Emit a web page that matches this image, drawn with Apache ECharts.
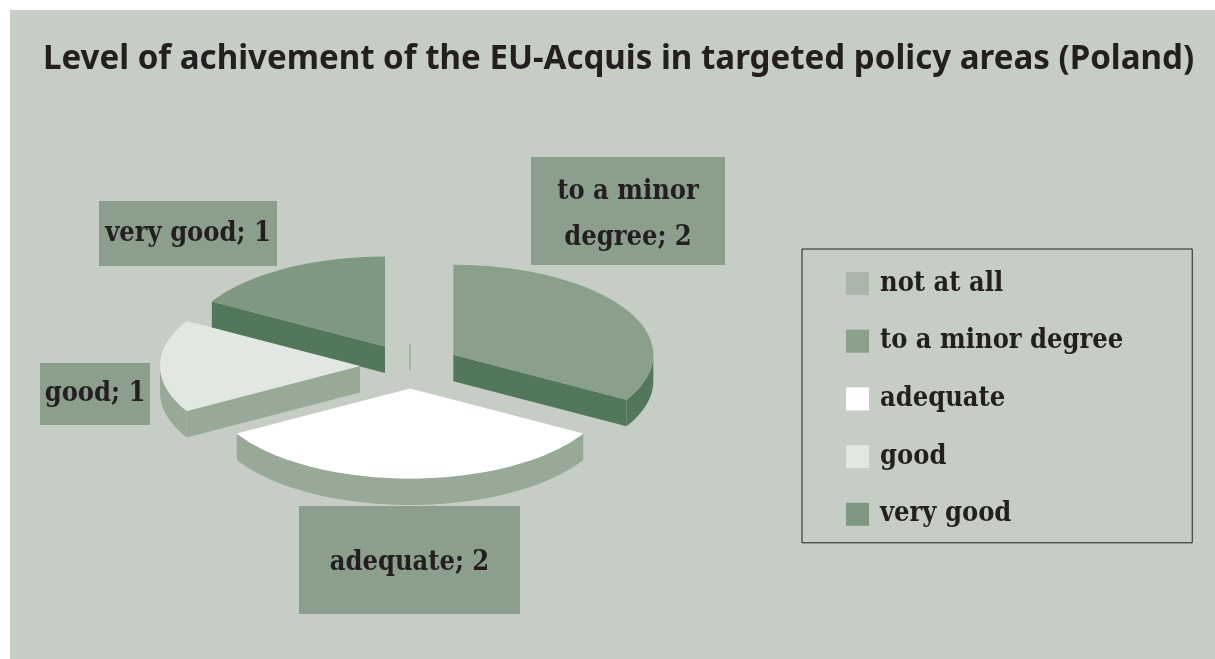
<!DOCTYPE html>
<html>
<head>
<meta charset="utf-8">
<title>EU-Acquis Poland</title>
<script src="https://cdn.jsdelivr.net/npm/echarts@6/dist/echarts.min.js"></script>
<style>
    html, body { margin: 0; padding: 0; background: #fff; }
    #chart { width: 1215px; height: 659px; }
</style>
</head>
<body>
<div id="chart"></div>
<script>
const categories = ['not at all', 'to a minor degree', 'adequate', 'good', 'very good'];
const values = [0, 2, 2, 1, 1];
const topColors = ['#aab6aa', '#8aa08b', '#ffffff', '#e1e7e1', '#7f9882'];
const sideColors = ['#8aa08b', '#52775a', '#98a998', '#98a998', '#52775a'];

// Label boxes in page pixels, [left, top, width, height]
const labelBoxes = [null, [531, 157, 194, 108], [299, 506, 221, 108], [40, 363, 110, 62], [99, 201, 178, 65]];
const labelBreaks = [null, 'to a minor\ndegree', null, null, null];
const labelShift = [0, 4, 3, 0, 0];

const textFont = 'DejaVu Serif Condensed';
const labelColor = '#231f20';
const EXPLODE = 0.25;
const DEPTH = 26.5 / 90; // wall height in unit-circle y units

const total = values.reduce((a, b) => a + b, 0);
const startAngles = values.map((_, i) => values.slice(0, i).reduce((a, b) => a + b, 0) / total * 360);

function rad(d) { return d * Math.PI / 180; }

function arcPoints(from, to, ox, oy) {
    const pts = [];
    const steps = Math.max(1, Math.ceil((to - from) / 2));
    for (let s = 0; s <= steps; s++) {
        const t = rad(from + (to - from) * s / steps);
        pts.push([ox + Math.sin(t), oy + Math.cos(t)]);
    }
    return pts;
}

function renderSlice(index) {
    return function (params, api) {
        const value = api.value(2);
        const a = startAngles[index];
        const b = a + value / total * 360;
        const mid = rad((a + b) / 2);
        const ox = Math.sin(mid) * EXPLODE;
        const oy = Math.cos(mid) * EXPLODE;
        const px = p => p.map(q => api.coord(q));
        const children = [];

        if (value === 0) {
            children.push({
                type: 'line',
                shape: {
                    x1: api.coord([ox, oy])[0], y1: api.coord([ox, oy])[1],
                    x2: api.coord([ox, oy - DEPTH])[0], y2: api.coord([ox, oy - DEPTH])[1]
                },
                style: { stroke: sideColors[index], lineWidth: 1 }
            });
            return { type: 'group', children };
        }

        const wall = angle => {
            const t = rad(angle);
            const end = [ox + Math.sin(t), oy + Math.cos(t)];
            return {
                type: 'polygon',
                shape: { points: px([[ox, oy], end, [end[0], end[1] - DEPTH], [ox, oy - DEPTH]]) },
                style: { fill: sideColors[index] }
            };
        };
        if (Math.sin(rad(a)) < -1e-6) children.push(wall(a));
        if (Math.sin(rad(b)) > 1e-6) children.push(wall(b));

        // Outer rim, only the front half of the ellipse shows
        const from = Math.max(a, 90);
        const to = Math.min(b, 270);
        if (to > from) {
            const rim = arcPoints(from, to, ox, oy);
            const lower = rim.map(p => [p[0], p[1] - DEPTH]).reverse();
            children.push({
                type: 'polygon',
                shape: { points: px(rim.concat(lower)) },
                style: { fill: sideColors[index] }
            });
        }

        children.push({
            type: 'polygon',
            shape: { points: px([[ox, oy]].concat(arcPoints(a, b, ox, oy))) },
            style: { fill: topColors[index] }
        });
        return { type: 'group', children };
    };
}

function renderLabel(index) {
    return function (params, api) {
        const box = labelBoxes[index];
        if (!box) return null;
        const name = labelBreaks[index] || categories[index];
        return {
            type: 'group',
            children: [
                { type: 'rect', shape: { x: box[0], y: box[1], width: box[2], height: box[3] }, style: { fill: '#8b9f8c' } },
                {
                    type: 'text',
                    style: {
                        x: box[0] + box[2] / 2,
                        y: box[1] + box[3] / 2 + labelShift[index],
                        text: name + '; ' + api.value(2),
                        align: 'center',
                        verticalAlign: 'middle',
                        fill: labelColor,
                        font: 'bold 27px "' + textFont + '"',
                        lineHeight: 46
                    }
                }
            ]
        };
    };
}

const sliceSeries = categories.map((name, i) => {
    const mid = rad(startAngles[i] + values[i] / total * 180);
    return {
        name,
        type: 'custom',
        coordinateSystem: 'cartesian2d',
        silent: true,
        z: 3 - Math.cos(mid),
        itemStyle: { color: topColors[i] },
        encode: { x: 0, y: 1 },
        renderItem: renderSlice(i),
        data: [[0, 0, values[i]]]
    };
});

const labelSeries = categories.map((name, i) => ({
    name: name + ' label',
    type: 'custom',
    coordinateSystem: 'cartesian2d',
    silent: true,
    z: 6,
    encode: { x: 0, y: 1 },
    renderItem: renderLabel(i),
    data: [[0, 0, values[i]]]
}));

const chart = echarts.init(document.getElementById('chart'));
chart.setOption({
    animation: false,
    backgroundColor: '#ffffff',
    graphic: [{
        type: 'rect',
        z: -1,
        silent: true,
        shape: { x: 10, y: 10, width: 1205, height: 649 },
        style: { fill: '#c6cdc5' }
    }],
    title: {
        text: 'Level of achivement of the EU-Acquis in targeted policy areas (Poland)',
        left: 43,
        top: 43,
        padding: 0,
        textStyle: { fontFamily: 'Noto Sans', fontWeight: 'bold', fontSize: 33.1, color: labelColor }
    },
    legend: {
        data: categories,
        orient: 'vertical',
        left: 802,
        top: 249,
        padding: [21, 69, 15, 44],
        icon: 'rect',
        itemWidth: 23,
        itemHeight: 23,
        itemGap: 30.7,
        selectedMode: false,
        borderColor: '#231f20',
        borderWidth: 1,
        textStyle: { fontFamily: textFont, fontWeight: 'bold', fontSize: 27, color: labelColor, padding: [0, 0, 0, 6] }
    },
    grid: { left: 110, top: 231, width: 600, height: 270 },
    xAxis: { type: 'value', min: -1.5, max: 1.5, show: false },
    yAxis: { type: 'value', min: -1.5, max: 1.5, show: false },
    series: sliceSeries.concat(labelSeries)
});
</script>
</body>
</html>
